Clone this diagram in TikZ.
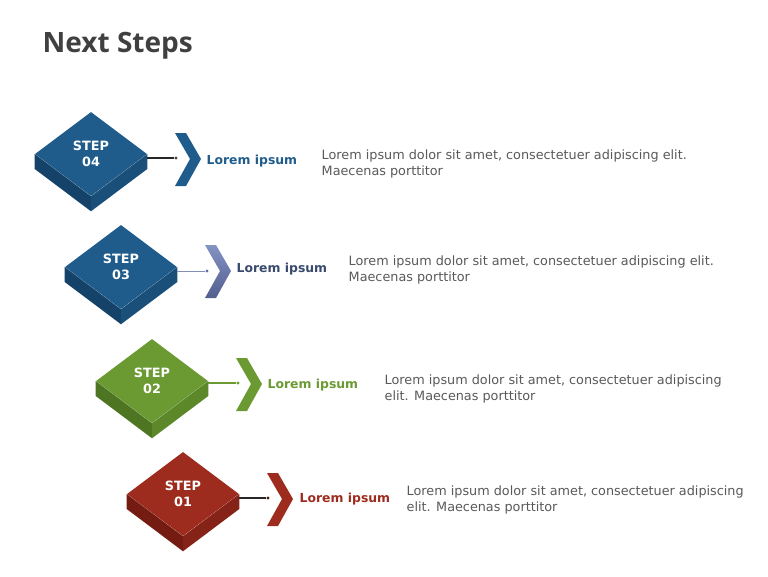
\documentclass[tikz,border=0pt]{standalone}
\usepackage{fontspec}
\setmainfont{DejaVu Sans}
\newfontfamily\titlefont{Open Sans}
\usetikzlibrary{positioning,calc,shapes.geometric}
\definecolor{stepblue}{RGB}{31,92,140}
\definecolor{stepblueL}{RGB}{21,66,104}
\definecolor{stepblueR}{RGB}{26,79,121}
\definecolor{steplav}{RGB}{96,112,168}
\definecolor{steplavlight}{RGB}{132,146,196}
\definecolor{steplavtext}{RGB}{58,74,110}
\definecolor{stepgreen}{RGB}{107,154,51}
\definecolor{stepgreenL}{RGB}{78,118,34}
\definecolor{stepgreenR}{RGB}{92,136,42}
\definecolor{stepred}{RGB}{158,44,30}
\definecolor{stepredL}{RGB}{116,28,18}
\definecolor{stepredR}{RGB}{134,35,24}
\definecolor{bodygray}{RGB}{89,89,89}
\definecolor{titlegray}{RGB}{64,64,64}
% chevron centred on a named coordinate
\newcommand{\chevron}[2]{%
  \fill[#2] (#1) ++(-12,-26) -- ++(11,0) -- ++(15,26) -- ++(-15,27)
    -- ++(-11,0) -- ++(15,-27) -- cycle;}
% side faces of a step box
\newcommand{\boxsides}[3]{%
  \fill[#2] (#1.west) -- (#1.south) -- ([yshift=-11.25pt]#1.south)
    -- ([yshift=-11.25pt]#1.west) -- cycle;
  \fill[#3] (#1.south) -- (#1.east) -- ([yshift=-11.25pt]#1.east)
    -- ([yshift=-11.25pt]#1.south) -- cycle;}

\begin{document}
\begin{tikzpicture}[
    x=0.75pt, y=-0.75pt,
    stepbox/.style={diamond, inner sep=0pt, minimum width=84pt,
                    minimum height=63pt, aspect=1.33, text=white,
                    align=center,
                    font=\bfseries\fontsize{9.6}{11.6}\selectfont},
    linkdot/.style={circle, inner sep=0pt, minimum size=2.6pt},
    linkline/.style={line width=0.9pt},
    headlabel/.style={anchor=west, font=\bfseries\fontsize{9.3}{11}\selectfont},
    bodytext/.style={anchor=west, align=left, text=bodygray,
                     font=\fontsize{9.6}{12}\selectfont}
]
\useasboundingbox (0,0) rectangle (768,576);

\node[anchor=west, text=titlegray, font=\titlefont\bfseries\fontsize{21}{24}\selectfont]
  (title) at (38,46) {Next Steps};

% boxes
\node[stepbox, fill=stepblue]  (s4) at ( 91,154) {STEP\\04};
\node[stepbox, fill=stepblue]  (s3) at (121,267) {STEP\\03};
\node[stepbox, fill=stepgreen] (s2) at (152,381) {STEP\\02};
\node[stepbox, fill=stepred]   (s1) at (183,494) {STEP\\01};

\boxsides{s4}{stepblueL}{stepblueR}
\boxsides{s3}{stepblueL}{stepblueR}
\boxsides{s2}{stepgreenL}{stepgreenR}
\boxsides{s1}{stepredL}{stepredR}

% dots and lines
\node[linkdot, fill=black!75]       (d4) at (176,158) {};
\node[linkdot, fill=steplav]        (d3) at (207,271) {};
\node[linkdot, fill=stepgreen]      (d2) at (238,383) {};
\node[linkdot, fill=stepredL!70!black] (d1) at (268,498) {};

\draw[linkline, black!85]  (d4) -- (d4 -| s4.east);
\draw[linkline, steplavlight!80!gray, line width=0.6pt] (d3) -- (d3 -| s3.east);
\draw[linkline, stepgreen] (d2) -- (d2 -| s2.east);
\draw[linkline, black!85]  (d1) -- (d1 -| s1.east);

% chevrons
\coordinate (c4) at (187,159);
\coordinate (c3) at (217,271);
\coordinate (c2) at (248,384);
\coordinate (c1) at (279,499);
\chevron{c4}{stepblue}
\shade[top color=steplavlight, bottom color=steplav!85!black]
  (c3) ++(-12,-26) -- ++(11,0) -- ++(15,26) -- ++(-15,27)
  -- ++(-11,0) -- ++(15,-27) -- cycle;
\chevron{c2}{stepgreen}
\chevron{c1}{stepred}

% labels
\node[headlabel, text=stepblue]    (l4) at (202,161) {Lorem ipsum};
\node[headlabel, text=steplavtext] (l3) at (232,269) {Lorem ipsum};
\node[headlabel, text=stepgreen]   (l2) at (263,385) {Lorem ipsum};
\node[headlabel, text=stepred]     (l1) at (295,499) {Lorem ipsum};

\node[bodytext] (t4) at (317,164) {Lorem ipsum dolor sit amet, consectetuer adipiscing elit.\\Maecenas porttitor};
\node[bodytext] (t3) at (344,270) {Lorem ipsum dolor sit amet, consectetuer adipiscing elit.\\Maecenas porttitor};
\node[bodytext] (t2) at (380,389) {Lorem ipsum dolor sit amet, consectetuer adipiscing\\elit. Maecenas porttitor};
\node[bodytext] (t1) at (402,500) {Lorem ipsum dolor sit amet, consectetuer adipiscing\\elit. Maecenas porttitor};

\end{tikzpicture}
\end{document}
